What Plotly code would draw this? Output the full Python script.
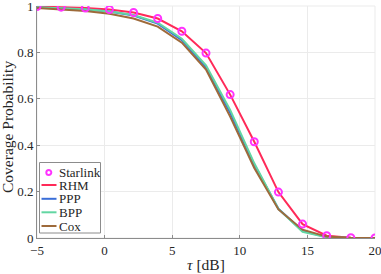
import numpy as np
import plotly.graph_objects as go

tau_db = [-5.0, -3.214, -1.429, 0.357, 2.143, 3.929, 5.714, 7.5, 9.286, 11.071, 12.857, 14.643, 16.429, 18.214, 20.0]
starlink = [0.998, 0.995, 0.991, 0.985, 0.972, 0.946, 0.891, 0.797, 0.618, 0.415, 0.198, 0.060, 0.010, 0.001, 0.0]
rhm = [0.998, 0.995, 0.991, 0.985, 0.972, 0.946, 0.891, 0.797, 0.618, 0.415, 0.198, 0.060, 0.010, 0.001, 0.0]
ppp = [0.994, 0.990, 0.985, 0.976, 0.959, 0.924, 0.853, 0.736, 0.540, 0.316, 0.126, 0.030, 0.004, 0.0003, 0.0]
bpp = [0.995, 0.991, 0.986, 0.976, 0.961, 0.928, 0.859, 0.744, 0.552, 0.322, 0.125, 0.027, 0.003, 0.0002, 0.0]
cox = [0.991, 0.986, 0.978, 0.967, 0.946, 0.911, 0.842, 0.726, 0.523, 0.302, 0.123, 0.036, 0.006, 0.0006, 0.0]

x_ticks = [-5, 0, 5, 10, 15, 20]
y_ticks = [0, 0.2, 0.4, 0.6, 0.8, 1]
y_tick_labels = ["0", "0.2", "0.4", "0.6", "0.8", "1"]

series_names = ["Starlink", "RHM", "PPP", "BPP", "Cox"]
series_colors = ["#FF33FF", "#FF2A58", "#3A6ED8", "#62D6A2", "#9E6A3A"]

FONT = "Liberation Serif, DejaVu Serif, serif"
TXT = "#262626"

# plot area in pixels
W, H = 381, 274
ML, MR, MT, MB = 37, 6, 6, 36
PW, PH = W - ML - MR, H - MT - MB

fig = go.Figure()
line_series = [("RHM", rhm), ("PPP", ppp), ("BPP", bpp), ("Cox", cox)]
for name, ys in line_series:
    c = series_colors[series_names.index(name)]
    fig.add_trace(go.Scatter(x=tau_db, y=ys, mode="lines", name=name,
                             line=dict(color=c, width=2), showlegend=False))
fig.add_trace(go.Scatter(x=tau_db, y=starlink, mode="markers", name="Starlink",
                         marker=dict(symbol="circle-open", size=7, color=series_colors[0],
                                     line=dict(width=2, color=series_colors[0])),
                         showlegend=False))

# manual legend (MATLAB-like compact box)
def px(xp):
    return (xp - ML) / PW

def py(yp):
    return (H - MB - yp) / PH

shapes = [dict(type="rect", xref="paper", yref="paper", x0=0, y0=0, x1=1, y1=1,
               line=dict(color="#EBEBEB", width=1), layer="below"),
          dict(type="rect", xref="paper", yref="paper", x0=px(39.5), x1=px(100.5),
               y0=py(233), y1=py(162.5), line=dict(color="#8C8C8C", width=1),
               fillcolor="white", layer="above")]
annotations = []
row_y = [172.5, 185, 198.8, 212.3, 226]
for i, name in enumerate(series_names):
    yy = row_y[i]
    c = series_colors[i]
    if name == "Starlink":
        shapes.append(dict(type="circle", xref="paper", yref="paper",
                           x0=px(46.3), x1=px(51.3), y0=py(yy + 2.5), y1=py(yy - 2.5),
                           line=dict(color=c, width=2), layer="above"))
    else:
        shapes.append(dict(type="line", xref="paper", yref="paper",
                           x0=px(41.5), x1=px(56.5), y0=py(yy), y1=py(yy),
                           line=dict(color=c, width=2), layer="above"))
    annotations.append(dict(text=name, xref="paper", yref="paper", x=px(57), y=py(yy),
                            xanchor="left", yanchor="middle", showarrow=False,
                            font=dict(family=FONT, size=13, color=TXT)))

annotations.append(dict(text="<i>τ</i> [dB]", xref="paper", yref="paper", x=0.5, y=0,
                        xanchor="center", yanchor="middle", yshift=-26, showarrow=False,
                        font=dict(family=FONT, size=15.5, color=TXT)))
annotations.append(dict(text="Coverage Probability", xref="paper", yref="paper", x=0, y=0.5,
                        xanchor="center", yanchor="middle", xshift=-30, yshift=-5,
                        textangle=-90, showarrow=False,
                        font=dict(family=FONT, size=15.5, color=TXT)))

fig.update_layout(
    width=W, height=H,
    margin=dict(l=ML, r=MR, t=MT, b=MB, autoexpand=False),
    paper_bgcolor="white", plot_bgcolor="white",
    font=dict(family=FONT, size=13, color=TXT),
    showlegend=False,
    xaxis=dict(range=[-5, 20], tickvals=x_ticks, showgrid=True, gridcolor="#EBEBEB",
               zeroline=False, showline=True, linecolor="#8C8C8C", linewidth=1,
               ticks="inside", ticklen=3, tickcolor="#8C8C8C", ticklabeloverflow="allow",
               automargin=False,
               tickfont=dict(family=FONT, size=13, color=TXT)),
    yaxis=dict(range=[0, 1], tickvals=y_ticks, ticktext=y_tick_labels, showgrid=True,
               gridcolor="#EBEBEB", zeroline=False, showline=True, linecolor="#8C8C8C",
               linewidth=1, ticks="inside", ticklen=3, tickcolor="#8C8C8C",
               ticklabeloverflow="allow", automargin=False,
               tickfont=dict(family=FONT, size=13, color=TXT)),
    shapes=shapes,
    annotations=annotations,
)

fig.write_html("out.html", config={"displayModeBar": False},
               post_script="document.body.style.margin='0';document.body.style.overflow='hidden';")
